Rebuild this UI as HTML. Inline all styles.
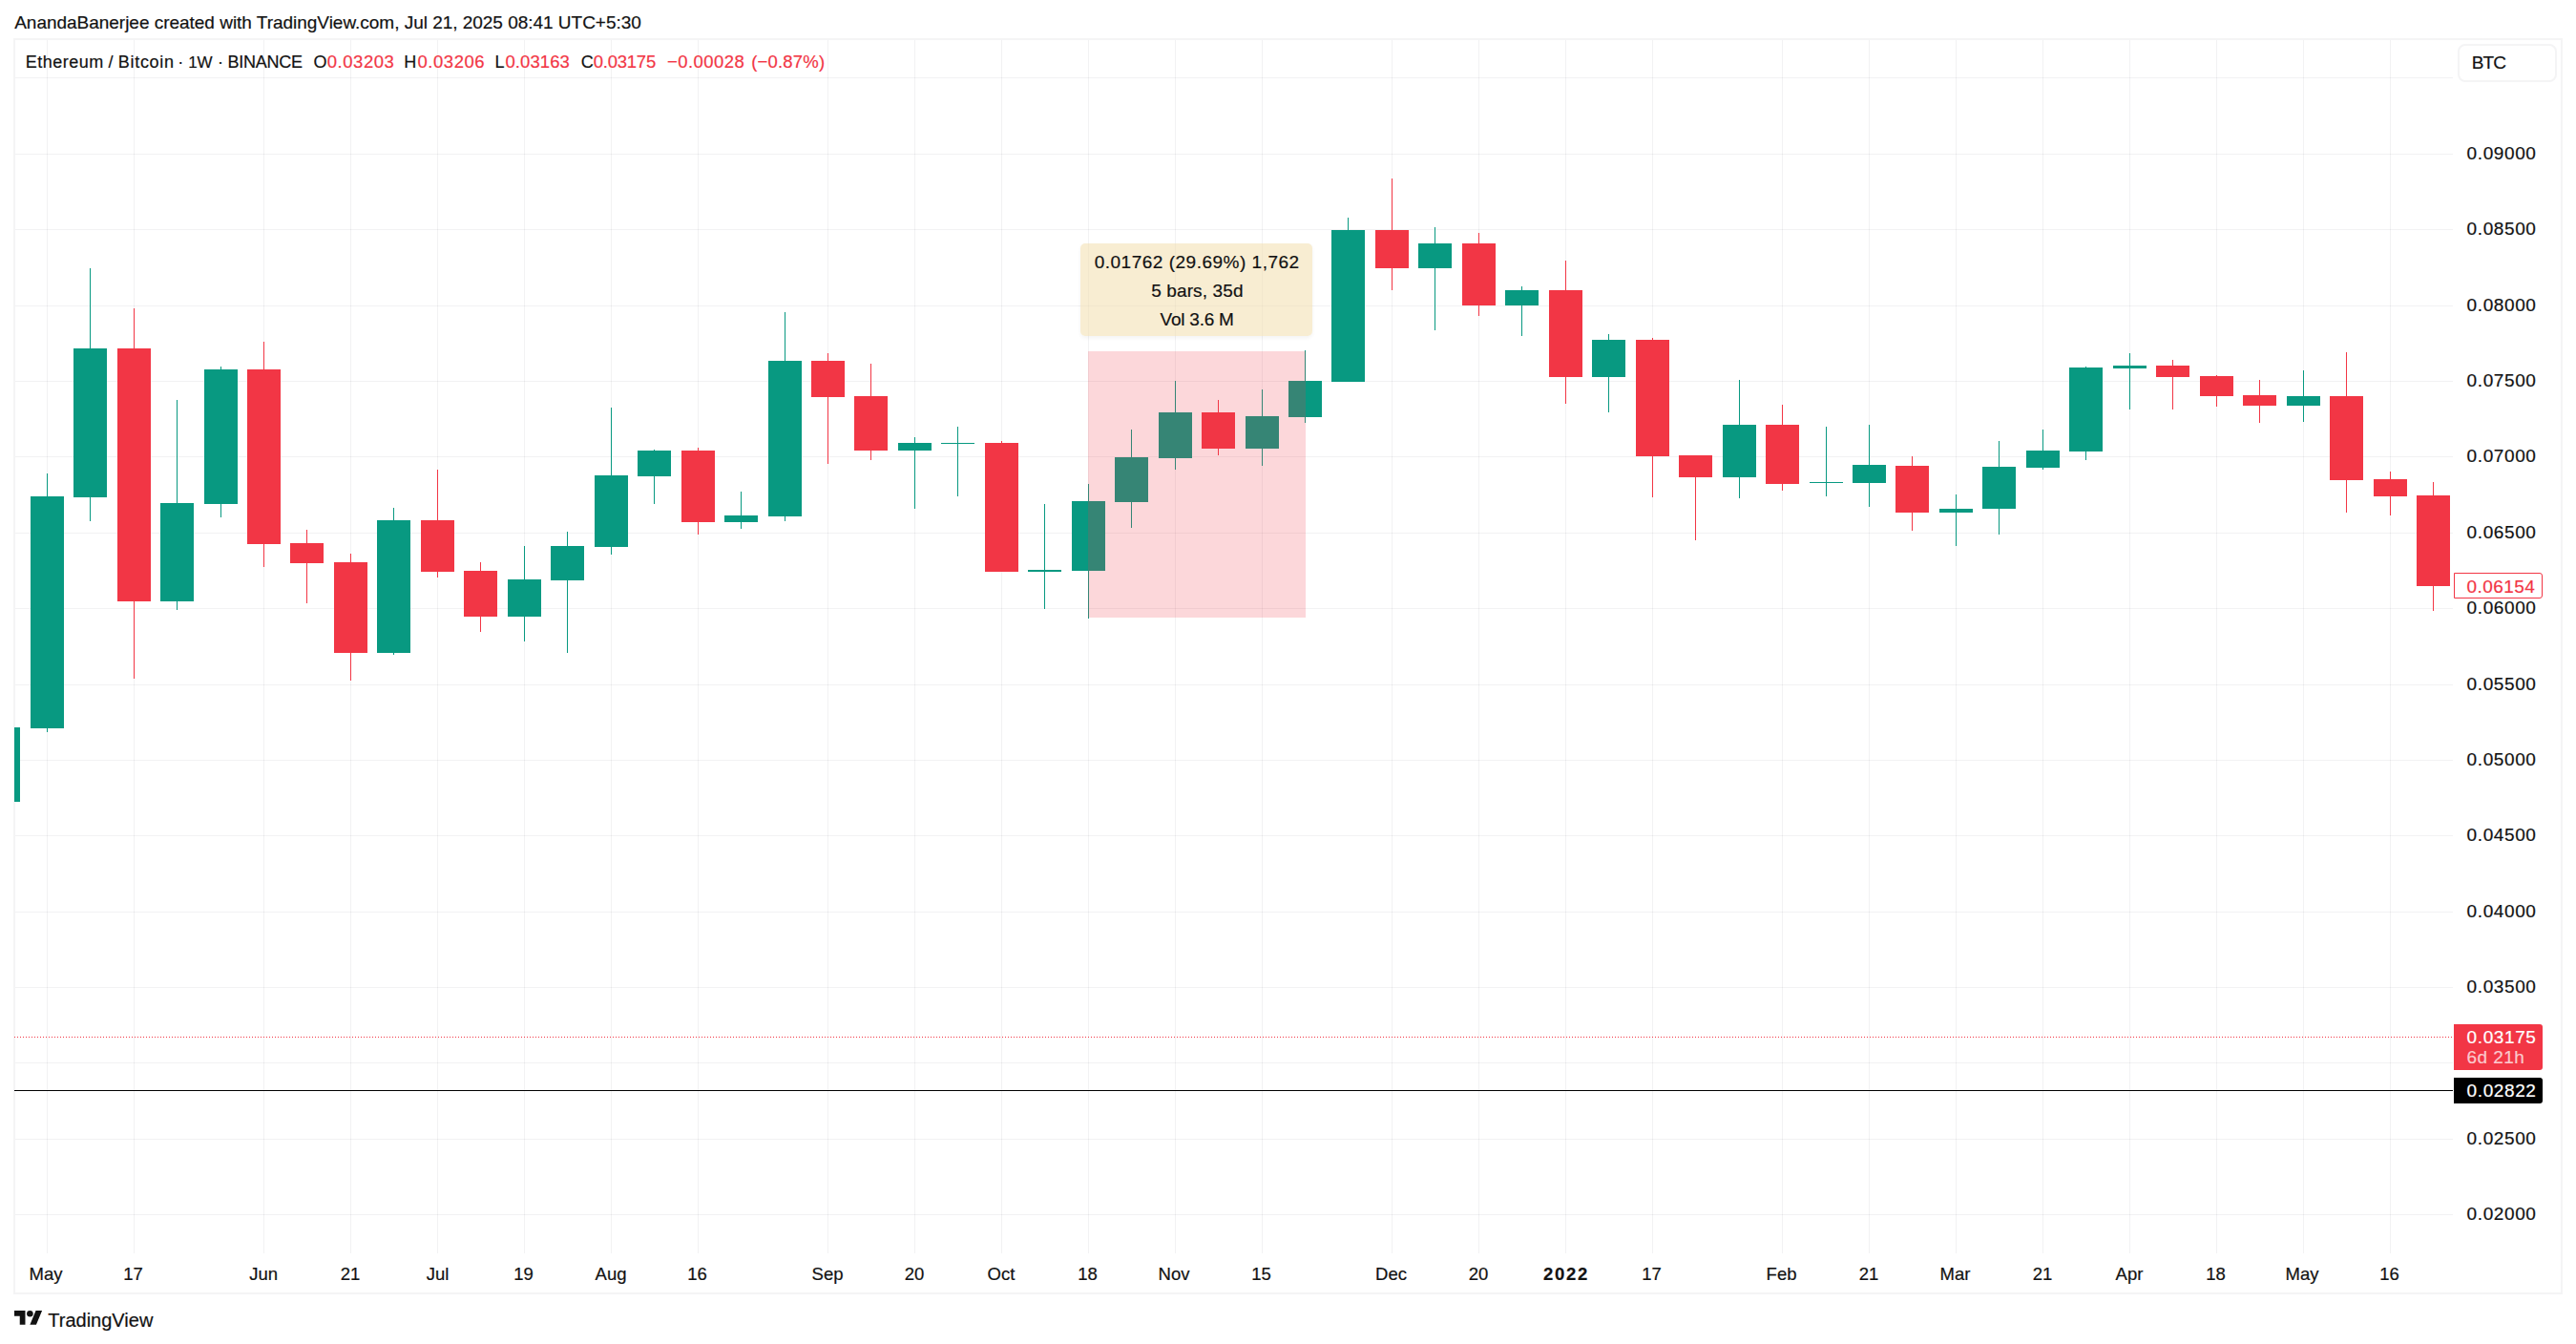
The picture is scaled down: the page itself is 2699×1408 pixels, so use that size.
<!DOCTYPE html>
<html><head><meta charset="utf-8"><title>ETHBTC chart</title>
<style>
html,body{margin:0;padding:0;background:#fff;}
body{width:2699px;height:1408px;position:relative;overflow:hidden;font-family:"Liberation Sans",sans-serif;}
body>div,body>svg{position:absolute;box-sizing:content-box;}
.t{white-space:pre;-webkit-text-stroke:0.2px;}
</style></head><body>
<div style="left:14px;top:40px;width:2667px;height:1312px;border:2px solid #f4f4f5;"></div>
<div style="left:16px;top:81px;width:2554px;height:1px;background:rgba(20,20,30,0.055);"></div>
<div style="left:16px;top:161px;width:2554px;height:1px;background:rgba(20,20,30,0.055);"></div>
<div style="left:16px;top:240px;width:2554px;height:1px;background:rgba(20,20,30,0.055);"></div>
<div style="left:16px;top:320px;width:2554px;height:1px;background:rgba(20,20,30,0.055);"></div>
<div style="left:16px;top:399px;width:2554px;height:1px;background:rgba(20,20,30,0.055);"></div>
<div style="left:16px;top:478px;width:2554px;height:1px;background:rgba(20,20,30,0.055);"></div>
<div style="left:16px;top:558px;width:2554px;height:1px;background:rgba(20,20,30,0.055);"></div>
<div style="left:16px;top:637px;width:2554px;height:1px;background:rgba(20,20,30,0.055);"></div>
<div style="left:16px;top:717px;width:2554px;height:1px;background:rgba(20,20,30,0.055);"></div>
<div style="left:16px;top:796px;width:2554px;height:1px;background:rgba(20,20,30,0.055);"></div>
<div style="left:16px;top:875px;width:2554px;height:1px;background:rgba(20,20,30,0.055);"></div>
<div style="left:16px;top:955px;width:2554px;height:1px;background:rgba(20,20,30,0.055);"></div>
<div style="left:16px;top:1034px;width:2554px;height:1px;background:rgba(20,20,30,0.055);"></div>
<div style="left:16px;top:1113px;width:2554px;height:1px;background:rgba(20,20,30,0.055);"></div>
<div style="left:16px;top:1193px;width:2554px;height:1px;background:rgba(20,20,30,0.055);"></div>
<div style="left:16px;top:1272px;width:2554px;height:1px;background:rgba(20,20,30,0.055);"></div>
<div style="left:49px;top:42px;width:1px;height:1271px;background:rgba(20,20,30,0.055);"></div>
<div style="left:140px;top:42px;width:1px;height:1271px;background:rgba(20,20,30,0.055);"></div>
<div style="left:276px;top:42px;width:1px;height:1271px;background:rgba(20,20,30,0.055);"></div>
<div style="left:367px;top:42px;width:1px;height:1271px;background:rgba(20,20,30,0.055);"></div>
<div style="left:458px;top:42px;width:1px;height:1271px;background:rgba(20,20,30,0.055);"></div>
<div style="left:549px;top:42px;width:1px;height:1271px;background:rgba(20,20,30,0.055);"></div>
<div style="left:640px;top:42px;width:1px;height:1271px;background:rgba(20,20,30,0.055);"></div>
<div style="left:731px;top:42px;width:1px;height:1271px;background:rgba(20,20,30,0.055);"></div>
<div style="left:867px;top:42px;width:1px;height:1271px;background:rgba(20,20,30,0.055);"></div>
<div style="left:958px;top:42px;width:1px;height:1271px;background:rgba(20,20,30,0.055);"></div>
<div style="left:1049px;top:42px;width:1px;height:1271px;background:rgba(20,20,30,0.055);"></div>
<div style="left:1140px;top:42px;width:1px;height:1271px;background:rgba(20,20,30,0.055);"></div>
<div style="left:1231px;top:42px;width:1px;height:1271px;background:rgba(20,20,30,0.055);"></div>
<div style="left:1322px;top:42px;width:1px;height:1271px;background:rgba(20,20,30,0.055);"></div>
<div style="left:1458px;top:42px;width:1px;height:1271px;background:rgba(20,20,30,0.055);"></div>
<div style="left:1549px;top:42px;width:1px;height:1271px;background:rgba(20,20,30,0.055);"></div>
<div style="left:1640px;top:42px;width:1px;height:1271px;background:rgba(20,20,30,0.055);"></div>
<div style="left:1731px;top:42px;width:1px;height:1271px;background:rgba(20,20,30,0.055);"></div>
<div style="left:1867px;top:42px;width:1px;height:1271px;background:rgba(20,20,30,0.055);"></div>
<div style="left:1958px;top:42px;width:1px;height:1271px;background:rgba(20,20,30,0.055);"></div>
<div style="left:2049px;top:42px;width:1px;height:1271px;background:rgba(20,20,30,0.055);"></div>
<div style="left:2140px;top:42px;width:1px;height:1271px;background:rgba(20,20,30,0.055);"></div>
<div style="left:2231px;top:42px;width:1px;height:1271px;background:rgba(20,20,30,0.055);"></div>
<div style="left:2322px;top:42px;width:1px;height:1271px;background:rgba(20,20,30,0.055);"></div>
<div style="left:2413px;top:42px;width:1px;height:1271px;background:rgba(20,20,30,0.055);"></div>
<div style="left:2504px;top:42px;width:1px;height:1271px;background:rgba(20,20,30,0.055);"></div>
<div style="left:15px;top:762px;width:6px;height:78px;background:#089981;"></div>
<div style="left:49px;top:496px;width:1px;height:271px;background:#089981;"></div>
<div style="left:32px;top:520px;width:35px;height:243px;background:#089981;"></div>
<div style="left:94px;top:281px;width:1px;height:265px;background:#089981;"></div>
<div style="left:77px;top:365px;width:35px;height:156px;background:#089981;"></div>
<div style="left:140px;top:323px;width:1px;height:388px;background:#f23645;"></div>
<div style="left:123px;top:365px;width:35px;height:265px;background:#f23645;"></div>
<div style="left:185px;top:419px;width:1px;height:220px;background:#089981;"></div>
<div style="left:168px;top:527px;width:35px;height:103px;background:#089981;"></div>
<div style="left:231px;top:384px;width:1px;height:158px;background:#089981;"></div>
<div style="left:214px;top:387px;width:35px;height:141px;background:#089981;"></div>
<div style="left:276px;top:358px;width:1px;height:236px;background:#f23645;"></div>
<div style="left:259px;top:387px;width:35px;height:183px;background:#f23645;"></div>
<div style="left:321px;top:555px;width:1px;height:77px;background:#f23645;"></div>
<div style="left:304px;top:569px;width:35px;height:21px;background:#f23645;"></div>
<div style="left:367px;top:580px;width:1px;height:133px;background:#f23645;"></div>
<div style="left:350px;top:589px;width:35px;height:95px;background:#f23645;"></div>
<div style="left:412px;top:532px;width:1px;height:154px;background:#089981;"></div>
<div style="left:395px;top:545px;width:35px;height:139px;background:#089981;"></div>
<div style="left:458px;top:492px;width:1px;height:113px;background:#f23645;"></div>
<div style="left:441px;top:545px;width:35px;height:54px;background:#f23645;"></div>
<div style="left:503px;top:589px;width:1px;height:73px;background:#f23645;"></div>
<div style="left:486px;top:598px;width:35px;height:48px;background:#f23645;"></div>
<div style="left:549px;top:572px;width:1px;height:100px;background:#089981;"></div>
<div style="left:532px;top:607px;width:35px;height:39px;background:#089981;"></div>
<div style="left:594px;top:557px;width:1px;height:127px;background:#089981;"></div>
<div style="left:577px;top:572px;width:35px;height:36px;background:#089981;"></div>
<div style="left:640px;top:427px;width:1px;height:154px;background:#089981;"></div>
<div style="left:623px;top:498px;width:35px;height:75px;background:#089981;"></div>
<div style="left:685px;top:471px;width:1px;height:57px;background:#089981;"></div>
<div style="left:668px;top:472px;width:35px;height:27px;background:#089981;"></div>
<div style="left:731px;top:469px;width:1px;height:91px;background:#f23645;"></div>
<div style="left:714px;top:472px;width:35px;height:75px;background:#f23645;"></div>
<div style="left:776px;top:515px;width:1px;height:39px;background:#089981;"></div>
<div style="left:759px;top:540px;width:35px;height:7px;background:#089981;"></div>
<div style="left:822px;top:327px;width:1px;height:219px;background:#089981;"></div>
<div style="left:805px;top:378px;width:35px;height:163px;background:#089981;"></div>
<div style="left:867px;top:370px;width:1px;height:116px;background:#f23645;"></div>
<div style="left:850px;top:378px;width:35px;height:38px;background:#f23645;"></div>
<div style="left:912px;top:381px;width:1px;height:101px;background:#f23645;"></div>
<div style="left:895px;top:415px;width:35px;height:57px;background:#f23645;"></div>
<div style="left:958px;top:458px;width:1px;height:75px;background:#089981;"></div>
<div style="left:941px;top:464px;width:35px;height:8px;background:#089981;"></div>
<div style="left:1003px;top:447px;width:1px;height:73px;background:#089981;"></div>
<div style="left:986px;top:464px;width:35px;height:1px;background:#089981;"></div>
<div style="left:1049px;top:462px;width:1px;height:137px;background:#f23645;"></div>
<div style="left:1032px;top:464px;width:35px;height:135px;background:#f23645;"></div>
<div style="left:1094px;top:528px;width:1px;height:110px;background:#089981;"></div>
<div style="left:1077px;top:597px;width:35px;height:2px;background:#089981;"></div>
<div style="left:1140px;top:507px;width:1px;height:141px;background:#089981;"></div>
<div style="left:1123px;top:525px;width:35px;height:73px;background:#089981;"></div>
<div style="left:1185px;top:450px;width:1px;height:103px;background:#089981;"></div>
<div style="left:1168px;top:479px;width:35px;height:47px;background:#089981;"></div>
<div style="left:1231px;top:399px;width:1px;height:93px;background:#089981;"></div>
<div style="left:1214px;top:432px;width:35px;height:48px;background:#089981;"></div>
<div style="left:1276px;top:419px;width:1px;height:58px;background:#f23645;"></div>
<div style="left:1259px;top:432px;width:35px;height:38px;background:#f23645;"></div>
<div style="left:1322px;top:408px;width:1px;height:80px;background:#089981;"></div>
<div style="left:1305px;top:436px;width:35px;height:34px;background:#089981;"></div>
<div style="left:1367px;top:367px;width:1px;height:76px;background:#089981;"></div>
<div style="left:1350px;top:399px;width:35px;height:38px;background:#089981;"></div>
<div style="left:1412px;top:228px;width:1px;height:172px;background:#089981;"></div>
<div style="left:1395px;top:241px;width:35px;height:159px;background:#089981;"></div>
<div style="left:1458px;top:187px;width:1px;height:117px;background:#f23645;"></div>
<div style="left:1441px;top:241px;width:35px;height:40px;background:#f23645;"></div>
<div style="left:1503px;top:238px;width:1px;height:108px;background:#089981;"></div>
<div style="left:1486px;top:255px;width:35px;height:26px;background:#089981;"></div>
<div style="left:1549px;top:244px;width:1px;height:87px;background:#f23645;"></div>
<div style="left:1532px;top:255px;width:35px;height:65px;background:#f23645;"></div>
<div style="left:1594px;top:300px;width:1px;height:52px;background:#089981;"></div>
<div style="left:1577px;top:304px;width:35px;height:16px;background:#089981;"></div>
<div style="left:1640px;top:273px;width:1px;height:150px;background:#f23645;"></div>
<div style="left:1623px;top:304px;width:35px;height:91px;background:#f23645;"></div>
<div style="left:1685px;top:350px;width:1px;height:82px;background:#089981;"></div>
<div style="left:1668px;top:356px;width:35px;height:39px;background:#089981;"></div>
<div style="left:1731px;top:354px;width:1px;height:167px;background:#f23645;"></div>
<div style="left:1714px;top:356px;width:35px;height:122px;background:#f23645;"></div>
<div style="left:1776px;top:477px;width:1px;height:89px;background:#f23645;"></div>
<div style="left:1759px;top:477px;width:35px;height:23px;background:#f23645;"></div>
<div style="left:1822px;top:398px;width:1px;height:124px;background:#089981;"></div>
<div style="left:1805px;top:445px;width:35px;height:55px;background:#089981;"></div>
<div style="left:1867px;top:424px;width:1px;height:90px;background:#f23645;"></div>
<div style="left:1850px;top:445px;width:35px;height:62px;background:#f23645;"></div>
<div style="left:1913px;top:447px;width:1px;height:73px;background:#089981;"></div>
<div style="left:1896px;top:505px;width:35px;height:1px;background:#089981;"></div>
<div style="left:1958px;top:445px;width:1px;height:86px;background:#089981;"></div>
<div style="left:1941px;top:487px;width:35px;height:19px;background:#089981;"></div>
<div style="left:2003px;top:478px;width:1px;height:78px;background:#f23645;"></div>
<div style="left:1986px;top:488px;width:35px;height:49px;background:#f23645;"></div>
<div style="left:2049px;top:518px;width:1px;height:54px;background:#089981;"></div>
<div style="left:2032px;top:533px;width:35px;height:4px;background:#089981;"></div>
<div style="left:2094px;top:462px;width:1px;height:98px;background:#089981;"></div>
<div style="left:2077px;top:489px;width:35px;height:44px;background:#089981;"></div>
<div style="left:2140px;top:450px;width:1px;height:42px;background:#089981;"></div>
<div style="left:2123px;top:472px;width:35px;height:18px;background:#089981;"></div>
<div style="left:2185px;top:384px;width:1px;height:98px;background:#089981;"></div>
<div style="left:2168px;top:385px;width:35px;height:88px;background:#089981;"></div>
<div style="left:2231px;top:370px;width:1px;height:59px;background:#089981;"></div>
<div style="left:2214px;top:383px;width:35px;height:3px;background:#089981;"></div>
<div style="left:2276px;top:377px;width:1px;height:52px;background:#f23645;"></div>
<div style="left:2259px;top:383px;width:35px;height:12px;background:#f23645;"></div>
<div style="left:2322px;top:393px;width:1px;height:33px;background:#f23645;"></div>
<div style="left:2305px;top:394px;width:35px;height:21px;background:#f23645;"></div>
<div style="left:2367px;top:398px;width:1px;height:45px;background:#f23645;"></div>
<div style="left:2350px;top:414px;width:35px;height:11px;background:#f23645;"></div>
<div style="left:2413px;top:388px;width:1px;height:54px;background:#089981;"></div>
<div style="left:2396px;top:415px;width:35px;height:10px;background:#089981;"></div>
<div style="left:2458px;top:369px;width:1px;height:168px;background:#f23645;"></div>
<div style="left:2441px;top:415px;width:35px;height:88px;background:#f23645;"></div>
<div style="left:2504px;top:494px;width:1px;height:46px;background:#f23645;"></div>
<div style="left:2487px;top:502px;width:35px;height:18px;background:#f23645;"></div>
<div style="left:2549px;top:505px;width:1px;height:135px;background:#f23645;"></div>
<div style="left:2532px;top:519px;width:35px;height:95px;background:#f23645;"></div>
<div style="left:1140px;top:368px;width:228px;height:279px;background:rgba(242,54,69,0.2);"></div>
<div style="left:1132px;top:255px;width:243px;height:97px;background:rgba(243,222,173,0.55);border-radius:5px;box-shadow:0 2px 4px rgba(0,0,0,0.05);"></div>
<div style="left:15px;top:1086px;width:2555px;height:1px;background:repeating-linear-gradient(90deg,#f23645 0 1px,transparent 1px 3px);"></div>
<div style="left:15px;top:1142px;width:2555px;height:1px;background:#000;"></div>
<div style="left:2571px;top:600px;width:91px;height:25px;border:1px solid #f23645;background:#fff;border-radius:0 3px 3px 0;"></div>
<div style="left:2571px;top:1073px;width:93px;height:48px;background:#f23645;border-radius:0 3px 3px 0;"></div>
<div style="left:2571px;top:1129px;width:93px;height:27px;background:#000;border-radius:0 3px 3px 0;"></div>
<div style="left:2575px;top:46px;width:100px;height:36px;border:2px solid #f4f4f5;background:#fff;border-radius:8px;"></div>
<svg style="left:14.85px;top:1373.2px;width:29.1px;height:14.8px" viewBox="0 4 35.5 18"><path fill="#121212" d="M14 22H7V11H0V4h14v18zM28 22h-8l7.5-18h8L28 22z"/><circle fill="#121212" cx="20" cy="8" r="4"/></svg>
<div class="t" style="left:15.20px;top:11.90px;font-size:19px;line-height:23px;color:#121212;letter-spacing:-0.022px;">AnandaBanerjee created with TradingView.com, Jul 21, 2025 08:41 UTC+5:30</div>
<div class="t" style="left:26.70px;top:54.00px;font-size:18px;line-height:22px;color:#121212;letter-spacing:0.508px;">Ethereum</div>
<div class="t" style="left:113.40px;top:54.00px;font-size:18px;line-height:22px;color:#121212;">/</div>
<div class="t" style="left:123.70px;top:54.00px;font-size:18px;line-height:22px;color:#121212;letter-spacing:0.731px;">Bitcoin</div>
<div class="t" style="left:186.30px;top:54.00px;font-size:18px;line-height:22px;color:#121212;">·</div>
<div class="t" style="left:197.30px;top:55.50px;font-size:17px;line-height:20px;color:#121212;letter-spacing:-0.255px;">1W</div>
<div class="t" style="left:227.90px;top:54.00px;font-size:18px;line-height:22px;color:#121212;">·</div>
<div class="t" style="left:238.60px;top:54.00px;font-size:18px;line-height:22px;color:#121212;letter-spacing:-0.252px;">BINANCE</div>
<div class="t" style="left:328.40px;top:54.00px;font-size:18px;line-height:22px;color:#121212;">O</div>
<div class="t" style="left:342.80px;top:53.50px;font-size:18.5px;line-height:22px;color:#f23645;letter-spacing:0.536px;">0.03203</div>
<div class="t" style="left:423.30px;top:54.00px;font-size:18px;line-height:22px;color:#121212;">H</div>
<div class="t" style="left:437.50px;top:53.50px;font-size:18.5px;line-height:22px;color:#f23645;letter-spacing:0.536px;">0.03206</div>
<div class="t" style="left:518.40px;top:54.00px;font-size:18px;line-height:22px;color:#121212;">L</div>
<div class="t" style="left:529.50px;top:53.50px;font-size:18.5px;line-height:22px;color:#f23645;letter-spacing:0.086px;">0.03163</div>
<div class="t" style="left:608.70px;top:54.00px;font-size:18px;line-height:22px;color:#121212;">C</div>
<div class="t" style="left:621.70px;top:53.50px;font-size:18.5px;line-height:22px;color:#f23645;letter-spacing:-0.231px;">0.03175</div>
<div class="t" style="left:698.90px;top:53.50px;font-size:18.5px;line-height:22px;color:#f23645;letter-spacing:0.459px;">−0.00028</div>
<div class="t" style="left:787.20px;top:53.50px;font-size:18.5px;line-height:22px;color:#f23645;letter-spacing:0.183px;">(−0.87%)</div>
<div class="t" style="left:1146.70px;top:263.20px;font-size:19px;line-height:23px;color:#121212;letter-spacing:0.504px;">0.01762 (29.69%) 1,762</div>
<div class="t" style="left:1206.20px;top:293.10px;font-size:19px;line-height:23px;color:#121212;letter-spacing:0.120px;">5 bars, 35d</div>
<div class="t" style="left:1215.60px;top:322.90px;font-size:19px;line-height:23px;color:#121212;letter-spacing:-0.235px;">Vol 3.6 M</div>
<div class="t" style="left:2584.60px;top:149.00px;font-size:19px;line-height:23px;color:#121212;letter-spacing:0.598px;">0.09000</div>
<div class="t" style="left:2584.60px;top:228.00px;font-size:19px;line-height:23px;color:#121212;letter-spacing:0.598px;">0.08500</div>
<div class="t" style="left:2584.60px;top:308.00px;font-size:19px;line-height:23px;color:#121212;letter-spacing:0.598px;">0.08000</div>
<div class="t" style="left:2584.60px;top:387.00px;font-size:19px;line-height:23px;color:#121212;letter-spacing:0.598px;">0.07500</div>
<div class="t" style="left:2584.60px;top:466.00px;font-size:19px;line-height:23px;color:#121212;letter-spacing:0.598px;">0.07000</div>
<div class="t" style="left:2584.60px;top:546.00px;font-size:19px;line-height:23px;color:#121212;letter-spacing:0.598px;">0.06500</div>
<div class="t" style="left:2584.60px;top:625.00px;font-size:19px;line-height:23px;color:#121212;letter-spacing:0.598px;">0.06000</div>
<div class="t" style="left:2584.60px;top:705.00px;font-size:19px;line-height:23px;color:#121212;letter-spacing:0.598px;">0.05500</div>
<div class="t" style="left:2584.60px;top:784.00px;font-size:19px;line-height:23px;color:#121212;letter-spacing:0.598px;">0.05000</div>
<div class="t" style="left:2584.60px;top:863.00px;font-size:19px;line-height:23px;color:#121212;letter-spacing:0.598px;">0.04500</div>
<div class="t" style="left:2584.60px;top:943.00px;font-size:19px;line-height:23px;color:#121212;letter-spacing:0.598px;">0.04000</div>
<div class="t" style="left:2584.60px;top:1022.00px;font-size:19px;line-height:23px;color:#121212;letter-spacing:0.598px;">0.03500</div>
<div class="t" style="left:2584.60px;top:1181.00px;font-size:19px;line-height:23px;color:#121212;letter-spacing:0.598px;">0.02500</div>
<div class="t" style="left:2584.60px;top:1260.00px;font-size:19px;line-height:23px;color:#121212;letter-spacing:0.598px;">0.02000</div>
<div class="t" style="left:2584.60px;top:602.50px;font-size:19px;line-height:23px;color:#f23645;letter-spacing:0.431px;">0.06154</div>
<div class="t" style="left:2584.60px;top:1075.00px;font-size:19px;line-height:23px;color:#fff;letter-spacing:0.598px;">0.03175</div>
<div class="t" style="left:2584.60px;top:1096.00px;font-size:19px;line-height:23px;color:#fbc9cd;letter-spacing:0.431px;">6d 21h</div>
<div class="t" style="left:2584.60px;top:1131.00px;font-size:19px;line-height:23px;color:#fff;letter-spacing:0.598px;">0.02822</div>
<div class="t" style="left:2589.80px;top:54.00px;font-size:19px;line-height:23px;color:#121212;letter-spacing:-0.939px;">BTC</div>
<div class="t" style="left:30.55px;top:1323.70px;font-size:18.5px;line-height:22px;color:#121212;">May</div>
<div class="t" style="left:129.26px;top:1323.70px;font-size:18.5px;line-height:22px;color:#121212;">17</div>
<div class="t" style="left:261.13px;top:1323.70px;font-size:18.5px;line-height:22px;color:#121212;">Jun</div>
<div class="t" style="left:356.76px;top:1323.70px;font-size:18.5px;line-height:22px;color:#121212;">21</div>
<div class="t" style="left:446.63px;top:1323.70px;font-size:18.5px;line-height:22px;color:#121212;">Jul</div>
<div class="t" style="left:538.26px;top:1323.70px;font-size:18.5px;line-height:22px;color:#121212;">19</div>
<div class="t" style="left:623.59px;top:1323.70px;font-size:18.5px;line-height:22px;color:#121212;">Aug</div>
<div class="t" style="left:720.26px;top:1323.70px;font-size:18.5px;line-height:22px;color:#121212;">16</div>
<div class="t" style="left:850.59px;top:1323.70px;font-size:18.5px;line-height:22px;color:#121212;">Sep</div>
<div class="t" style="left:947.76px;top:1323.70px;font-size:18.5px;line-height:22px;color:#121212;">20</div>
<div class="t" style="left:1034.58px;top:1323.70px;font-size:18.5px;line-height:22px;color:#121212;">Oct</div>
<div class="t" style="left:1129.26px;top:1323.70px;font-size:18.5px;line-height:22px;color:#121212;">18</div>
<div class="t" style="left:1213.58px;top:1323.70px;font-size:18.5px;line-height:22px;color:#121212;">Nov</div>
<div class="t" style="left:1311.26px;top:1323.70px;font-size:18.5px;line-height:22px;color:#121212;">15</div>
<div class="t" style="left:1441.08px;top:1323.70px;font-size:18.5px;line-height:22px;color:#121212;">Dec</div>
<div class="t" style="left:1538.76px;top:1323.70px;font-size:18.5px;line-height:22px;color:#121212;">20</div>
<div class="t" style="left:1617.00px;top:1323.70px;font-size:18.5px;line-height:22px;color:#121212;letter-spacing:1.711px;font-weight:bold;">2022</div>
<div class="t" style="left:1720.26px;top:1323.70px;font-size:18.5px;line-height:22px;color:#121212;">17</div>
<div class="t" style="left:1850.61px;top:1323.70px;font-size:18.5px;line-height:22px;color:#121212;">Feb</div>
<div class="t" style="left:1947.76px;top:1323.70px;font-size:18.5px;line-height:22px;color:#121212;">21</div>
<div class="t" style="left:2032.55px;top:1323.70px;font-size:18.5px;line-height:22px;color:#121212;">Mar</div>
<div class="t" style="left:2129.76px;top:1323.70px;font-size:18.5px;line-height:22px;color:#121212;">21</div>
<div class="t" style="left:2216.59px;top:1323.70px;font-size:18.5px;line-height:22px;color:#121212;">Apr</div>
<div class="t" style="left:2311.26px;top:1323.70px;font-size:18.5px;line-height:22px;color:#121212;">18</div>
<div class="t" style="left:2394.55px;top:1323.70px;font-size:18.5px;line-height:22px;color:#121212;">May</div>
<div class="t" style="left:2493.26px;top:1323.70px;font-size:18.5px;line-height:22px;color:#121212;">16</div>
<div class="t" style="left:50.30px;top:1370.60px;font-size:20px;line-height:24px;color:#121212;">TradingView</div>
</body></html>
